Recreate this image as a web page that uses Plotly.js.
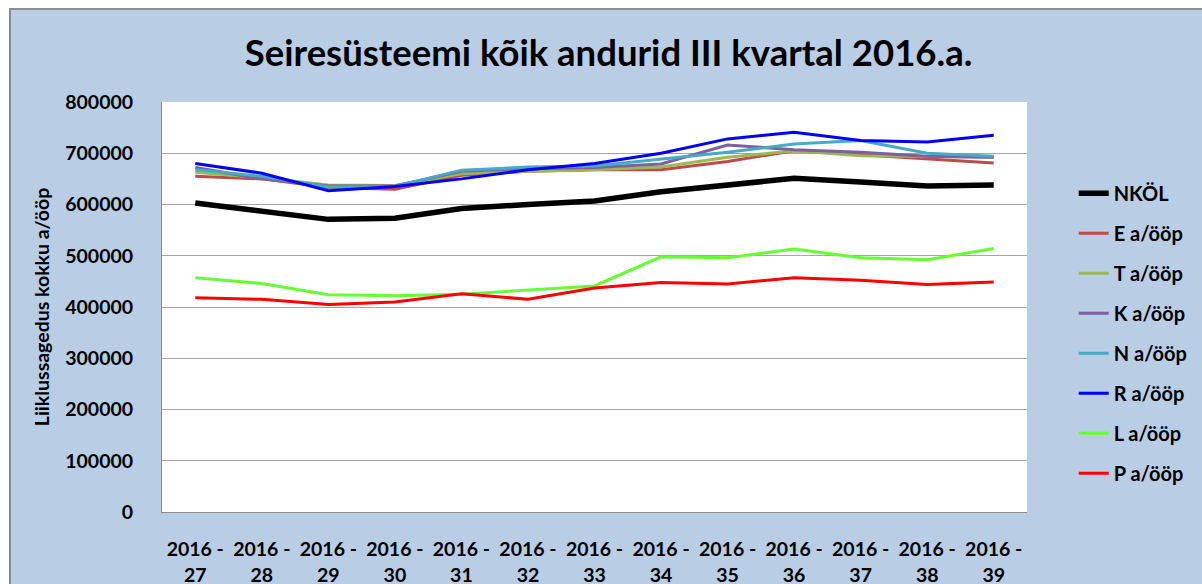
<!DOCTYPE html>
<html>
<head>
<meta charset="utf-8">
<script src="https://cdn.plot.ly/plotly-3.0.1.min.js"></script>
<style>
  html, body { margin: 0; padding: 0; background: #ffffff; overflow: hidden; width: 1202px; height: 584px; }
  #frame { position: absolute; left: 9px; top: 8px; width: 1200px; height: 600px; border: 2px solid #8c8c8c; background: #b9cde5; overflow: hidden; }
  #chart { width: 1200px; height: 590px; }
</style>
</head>
<body>
<div id="frame"><div id="chart"></div></div>
<script>
const weeks = ["27","28","29","30","31","32","33","34","35","36","37","38","39"];
const tickLabels = weeks.map(w => "2016 -<br>" + w);
const seriesNames = ["NKÖL","E a/ööp","T a/ööp","K a/ööp","N a/ööp","R a/ööp","L a/ööp","P a/ööp"];

const nkol = [603000, 587000, 571000, 573000, 592000, 600000, 607000, 625000, 639000, 651000, 644000, 636000, 638000];
const eVal = [655000, 650000, 633000, 630000, 657000, 665000, 668000, 668000, 684000, 705000, 697000, 689000, 681000];
const tVal = [663000, 652000, 638000, 637000, 660000, 665000, 668000, 673000, 692000, 705000, 695000, 693000, 692000];
const kVal = [672000, 650000, 636000, 636000, 665000, 670000, 672000, 679000, 716000, 707000, 702000, 694000, 692000];
const nVal = [668000, 655000, 634000, 635000, 667000, 673000, 675000, 689000, 702000, 718000, 725000, 700000, 694000];
const rVal = [680000, 661000, 627000, 635000, 650000, 668000, 680000, 700000, 728000, 741000, 725000, 722000, 735000];
const lVal = [457000, 446000, 424000, 422000, 425000, 433000, 441000, 498000, 496000, 513000, 496000, 492000, 514000];
const pVal = [418000, 415000, 405000, 410000, 426000, 415000, 437000, 448000, 445000, 457000, 452000, 444000, 449000];

const values = [nkol, eVal, tVal, kVal, nVal, rVal, lVal, pVal];
const colors = ["#000000", "#be4b48", "#98b954", "#7d60a0", "#46aac5", "#0000ff", "#66ff33", "#ff0000"];
const widths = [5.5, 3, 3, 3, 3, 3, 3, 3];

const traces = values.map((v, i) => ({
  type: "scatter",
  mode: "lines",
  x: weeks,
  y: v,
  name: seriesNames[i],
  legendgroup: "g" + i,
  line: { color: colors[i], width: widths[i] }
}));

const font = "Lato, 'DejaVu Sans', sans-serif";

const layout = {
  width: 1200,
  height: 590,
  paper_bgcolor: "#b9cde5",
  plot_bgcolor: "#ffffff",
  margin: { l: 151, r: 184, t: 92, b: 88 },
  font: { family: font, color: "#000000", size: 19, weight: "bold" },
  title: {
    text: "<b>Seiresüsteemi kõik andurid III kvartal 2016.a.</b>",
    font: { family: font, size: 36.5, color: "#000000" },
    x: 0.498, xref: "container", xanchor: "center",
    y: 0.927, yref: "container", yanchor: "middle"
  },
  xaxis: {
    type: "category",
    tickmode: "array",
    tickvals: weeks,
    ticktext: tickLabels,
    tickangle: 0,
    showgrid: false,
    showline: true,
    linecolor: "#8c8c8c",
    linewidth: 1,
    ticks: "",
    ticklabelstandoff: 20,
    tickfont: { family: font, size: 19.5, color: "#000000", weight: "bold" },
    range: [-0.5, 12.5],
    fixedrange: true
  },
  yaxis: {
    range: [0, 800000],
    tickmode: "array",
    tickvals: [0, 100000, 200000, 300000, 400000, 500000, 600000, 700000, 800000],
    ticktext: ["0", "100000", "200000", "300000", "400000", "500000", "600000", "700000", "800000"],
    showgrid: true,
    gridcolor: "#a6a6a6",
    gridwidth: 1,
    showline: true,
    linecolor: "#8c8c8c",
    linewidth: 1,
    zeroline: false,
    ticks: "",
    ticklabelstandoff: 24,
    tickfont: { family: font, size: 19.5, color: "#000000", weight: "bold" },
    title: {
      text: "<b>Liiklussagedus kokku a/ööp</b>",
      font: { family: font, size: 19.5, color: "#000000" },
      standoff: 10
    },
    fixedrange: true
  },
  showlegend: true,
  legend: {
    x: 1.054, xanchor: "left",
    y: 0.825, yanchor: "top",
    bgcolor: "rgba(0,0,0,0)",
    traceorder: "grouped",
    tracegroupgap: 11,
    font: { family: font, size: 20, color: "#000000", weight: "bold" }
  }
};

Plotly.newPlot("chart", traces, layout, { staticPlot: true, displayModeBar: false });
</script>
</body>
</html>
